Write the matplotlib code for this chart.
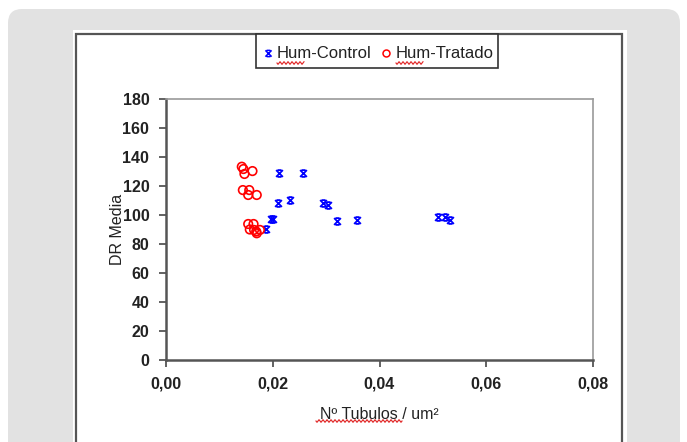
import numpy as np
import matplotlib
matplotlib.use("Agg")
import matplotlib.pyplot as plt
from matplotlib.path import Path
from matplotlib.patches import FancyBboxPatch, Rectangle
from matplotlib.lines import Line2D

plt.rcParams['font.family'] = ['Liberation Sans', 'DejaVu Sans']

# ---- data ----
control_x = [0.0212, 0.0257, 0.0210, 0.0232, 0.0295, 0.0304, 0.0320, 0.0357,
             0.0196, 0.0200, 0.0188, 0.0510, 0.0523, 0.0532]
control_y = [128.8, 128.8, 108.5, 110.3, 108.1, 106.9, 95.9, 96.6,
             96.9, 96.9, 90.3, 98.8, 98.6, 96.6]
tratado_x = [0.0142, 0.0145, 0.0147, 0.0162, 0.0144, 0.0156, 0.0154, 0.0170,
             0.0154, 0.0164, 0.0157, 0.0169, 0.0176, 0.0170, 0.0165]
tratado_y = [133.3, 131.7, 128.3, 130.3, 117.2, 117.2, 113.8, 113.8,
             93.8, 93.8, 90.0, 88.6, 89.7, 87.4, 89.7]
x_ticks = [0.00, 0.02, 0.04, 0.06, 0.08]
x_tick_labels = ['0,00', '0,02', '0,04', '0,06', '0,08']
y_ticks = list(range(0, 181, 20))
series_names = ['Hum-Control', 'Hum-Tratado']
x_label = 'Nº Tubulos / um²'
y_label = 'DR Media'

W, H = 687, 442
fig = plt.figure(figsize=(W / 100, H / 100), dpi=100)
fig.patch.set_facecolor('white')

# decoration layer in pixel coords
bg = fig.add_axes([0, 0, 1, 1])
bg.set_xlim(0, W)
bg.set_ylim(H, 0)
bg.axis('off')
bg.add_patch(FancyBboxPatch((8, 9), 672, 460, boxstyle="round,pad=0,rounding_size=14",
                            facecolor='#e2e2e2', edgecolor='none'))
bg.add_patch(Rectangle((73, 30), 554, 420, facecolor='white', edgecolor='none'))
bg.add_patch(Rectangle((76, 34), 546, 420, facecolor='white', edgecolor='#555555', lw=1.6))

# legend box
bg.add_patch(Rectangle((256, 34), 242, 34, facecolor='white', edgecolor='#333333', lw=1.2))

# star-like marker: x with bars
star = Path([(-1, -1), (1, 1), (-1, 1), (1, -1), (-0.6, 1), (0.6, 1), (-0.6, -1), (0.6, -1)],
            [Path.MOVETO, Path.LINETO, Path.MOVETO, Path.LINETO,
             Path.MOVETO, Path.LINETO, Path.MOVETO, Path.LINETO])

ax = fig.add_axes([166 / W, (H - 360) / H, (593 - 166) / W, (360 - 99) / H])
ax.scatter(control_x, control_y, marker=star, s=24, color='#0000ff', linewidths=1.3, zorder=3)
ax.scatter(tratado_x, tratado_y, marker='o', s=38, facecolors='none', edgecolors='#ff0000',
           linewidths=1.2, zorder=3)
ax.set_xlim(0, 0.08)
ax.set_ylim(0, 180)
ax.set_xticks(x_ticks)
ax.set_xticklabels(x_tick_labels)
ax.set_yticks(y_ticks)
for s in ['left', 'bottom']:
    ax.spines[s].set_color('#555555')
    ax.spines[s].set_linewidth(1.8)
for s in ['top', 'right']:
    ax.spines[s].set_color('#9a9a9a')
    ax.spines[s].set_linewidth(1.2)
ax.tick_params(direction='out', length=5, width=1.3, color='#555555', pad=7,
               labelsize=11.5, labelcolor='#222222')
for lab in ax.get_xticklabels() + ax.get_yticklabels():
    lab.set_fontweight('bold')
ax.set_xlabel(x_label, fontsize=11.5, color='#222222', labelpad=11)
ax.set_ylabel(y_label, fontsize=11.5, color='#222222', labelpad=-2)

# legend entries (pixel coords)
bg.add_line(Line2D([268], [53], marker=star, markersize=4.5, color='#0000ff', mew=1.1, linestyle='none'))
bg.text(277, 53, series_names[0], fontsize=12, color='#222222', va='center', ha='left')
bg.add_line(Line2D([386], [53], marker='o', markersize=5, markerfacecolor='none',
                   markeredgecolor='#ff0000', mew=1.1, linestyle='none'))
bg.text(396, 53, series_names[1], fontsize=12, color='#222222', va='center', ha='left')

# red spell-check squiggles
def squiggle(x0, x1, y):
    xs = np.linspace(x0, x1, 200)
    bg.plot(xs, y + 1.2 * np.sin((xs - x0) * 2 * np.pi / 4), color='#e02020', lw=0.8)

squiggle(277, 304, 63)
squiggle(396, 423, 63)
squiggle(316, 402, 421)

fig.savefig('out.png', dpi=100)
